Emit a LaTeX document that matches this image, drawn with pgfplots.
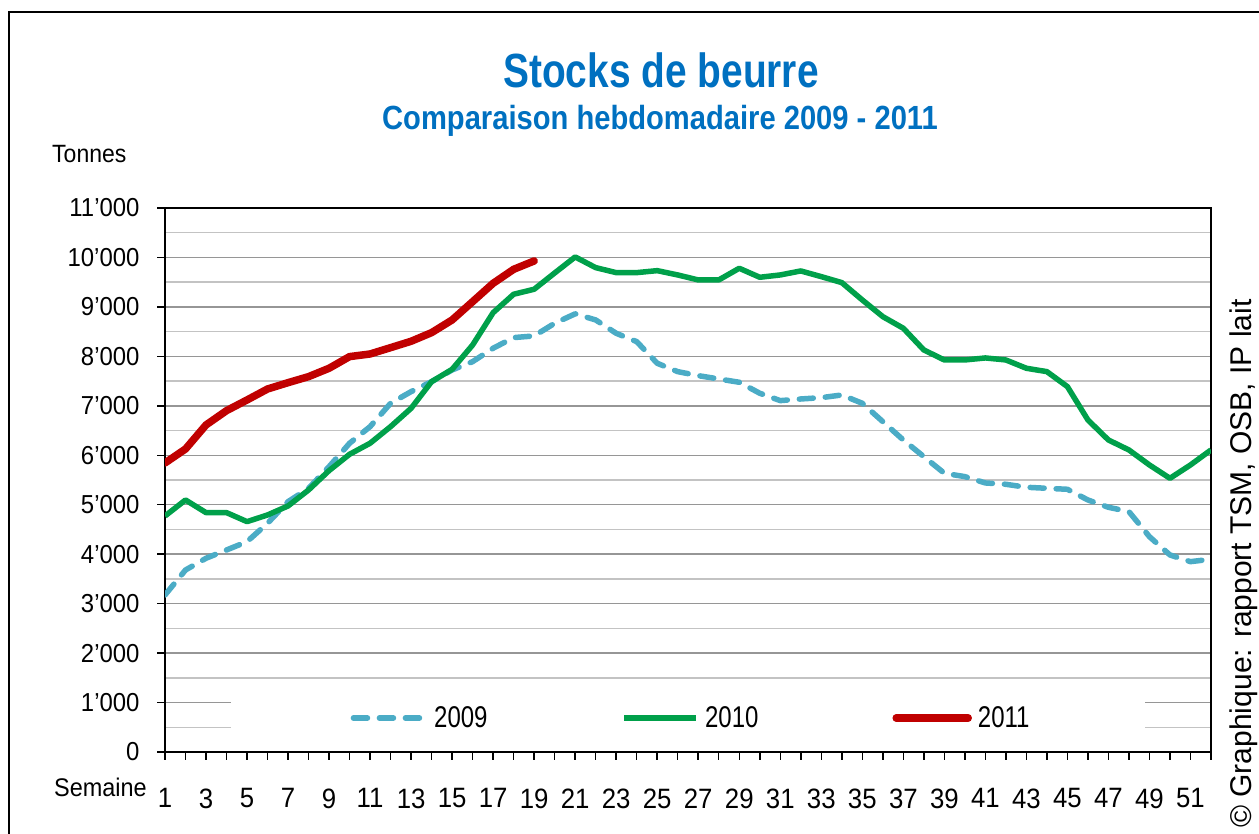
\documentclass[border=0pt]{standalone}
\usepackage{fontspec}
\setmainfont{Liberation Sans}[FakeStretch=0.92]
\newfontfamily\titlefont{Liberation Sans}[FakeStretch=0.81]
\newfontfamily\subfont{Liberation Sans}[FakeStretch=0.87]
\newfontfamily\legfont{Liberation Sans}[FakeStretch=0.8]
\newfontfamily\notefont{Liberation Sans}
\usepackage{pgfplots}
\pgfplotsset{compat=1.18}
\definecolor{c09}{HTML}{4BACC6}
\definecolor{c10}{HTML}{00A04A}
\definecolor{c11}{HTML}{C00000}
\definecolor{tblue}{HTML}{0070C0}
\definecolor{gmaj}{HTML}{969696}
\definecolor{gmin}{HTML}{C3C3C3}

\pgfplotstableread{
w v
1 3175
2 3680
3 3917
4 4085
5 4253
6 4625
7 5062
8 5332
9 5770
10 6243
11 6579
12 7051
13 7287
14 7489
15 7725
16 7893
17 8164
18 8379
19 8413
20 8669
21 8860
22 8736
23 8466
24 8298
25 7860
26 7691
27 7610
28 7543
29 7476
30 7254
31 7105
32 7138
33 7165
34 7219
35 7051
36 6680
37 6309
38 5972
39 5636
40 5568
41 5440
42 5413
43 5353
44 5332
45 5312
46 5096
47 4948
48 4860
49 4354
50 3984
51 3849
52 3897
}\dataA

\pgfplotstableread{
w v
1 4772
2 5096
3 4840
4 4840
5 4658
6 4793
7 4975
8 5298
9 5690
10 6020
11 6243
12 6579
13 6950
14 7489
15 7738
16 8230
17 8884
18 9256
19 9357
20 9686
21 10010
22 9794
23 9693
24 9693
25 9733
26 9646
27 9545
28 9545
29 9781
30 9599
31 9646
32 9727
33 9612
34 9491
35 9140
36 8803
37 8568
38 8129
39 7927
40 7927
41 7968
42 7927
43 7759
44 7691
45 7388
46 6714
47 6309
48 6107
49 5804
50 5534
51 5804
52 6107
}\dataB

\pgfplotstableread{
w v
1 5844
2 6127
3 6613
4 6902
5 7118
6 7340
7 7468
8 7590
9 7759
10 7995
11 8048
12 8176
13 8305
14 8480
15 8736
16 9106
17 9477
18 9760
19 9929
}\dataC

\begin{document}
\begin{tikzpicture}[x=1bp,y=1bp]
\useasboundingbox (0,0) rectangle (1259,834);
\draw[line width=2bp] (9,-20) -- (9,822) -- (1280,822);
\node[anchor=base, text=tblue, font=\titlefont\bfseries\fontsize{48bp}{50bp}\selectfont, inner sep=0pt] at (661,746) {Stocks de beurre};
\node[anchor=base, text=tblue, font=\subfont\bfseries\fontsize{33.5bp}{36bp}\selectfont, inner sep=0pt] at (660,704) {Comparaison hebdomadaire 2009 - 2011};
\node[anchor=base west, font=\fontsize{25bp}{28bp}\selectfont, inner sep=0pt] at (52,671) {Tonnes};
\node[anchor=base east, font=\fontsize{25.5bp}{28bp}\selectfont, inner sep=0pt] at (147,37) {Semaine};
\node[anchor=base west, rotate=90, font=\notefont\fontsize{30bp}{32bp}\selectfont, inner sep=0pt] at (1251,6) {© Graphique: rapport TSM, OSB, IP lait};

\begin{axis}[
  at={(165bp,82bp)}, anchor=south west,
  width=1046bp, height=544bp, scale only axis,
  xmin=1, xmax=52, ymin=0, ymax=11000,
  scaled y ticks=false,
  xtick={1,3,...,51},
  xticklabels={1,3,5,7,9,11,13,15,17,19,21,23,25,27,29,31,33,35,37,39,41,43,45,47,49,51},
  extra x ticks={2,4,...,52}, extra x tick labels={},
  ytick={0,1000,...,11000},
  yticklabels={0,1’000,2’000,3’000,4’000,5’000,6’000,7’000,8’000,9’000,10’000,11’000},
  minor y tick num=1,
  ymajorgrids, yminorgrids,
  major grid style={gmaj, line width=1.5bp},
  minor grid style={gmin, line width=1.5bp},
  tick align=outside, xtick pos=left, ytick pos=left,
  major tick length=8bp, minor tick length=0pt,
  tick style={black, line width=1.5bp},
  axis line style={black, line width=2bp},
  xticklabel style={font=\fontsize{28bp}{30bp}\selectfont, yshift=-25bp},
  yticklabel style={font=\fontsize{26bp}{28bp}\selectfont, xshift=-14bp},
  legend style={at={(0.503,0.0625)}, anchor=center, draw=none, fill=none,
    font=\legfont\fontsize{30bp}{32bp}\selectfont,
    /tikz/every even column/.append style={column sep=132bp},
    /tikz/every odd column/.append style={column sep=4bp}},
  legend columns=3,
  legend image code/.code={\draw[#1] (0bp,0bp) -- (72bp,0bp);},
]
\fill[white] (rel axis cs:0.0631,0.0074) rectangle (rel axis cs:0.937,0.125);
\addplot[c09, line width=5.5bp, dash pattern=on 14bp off 12bp, line cap=round, line join=round] table[x=w,y=v] {\dataA};
\addlegendentry{2009}
\addplot[c10, line width=5.5bp, line join=round] table[x=w,y=v] {\dataB};
\addlegendentry{2010}
\addplot[c11, line width=7.5bp, line cap=round, line join=round] table[x=w,y=v] {\dataC};
\addlegendentry{2011}
\end{axis}
\end{tikzpicture}
\end{document}
